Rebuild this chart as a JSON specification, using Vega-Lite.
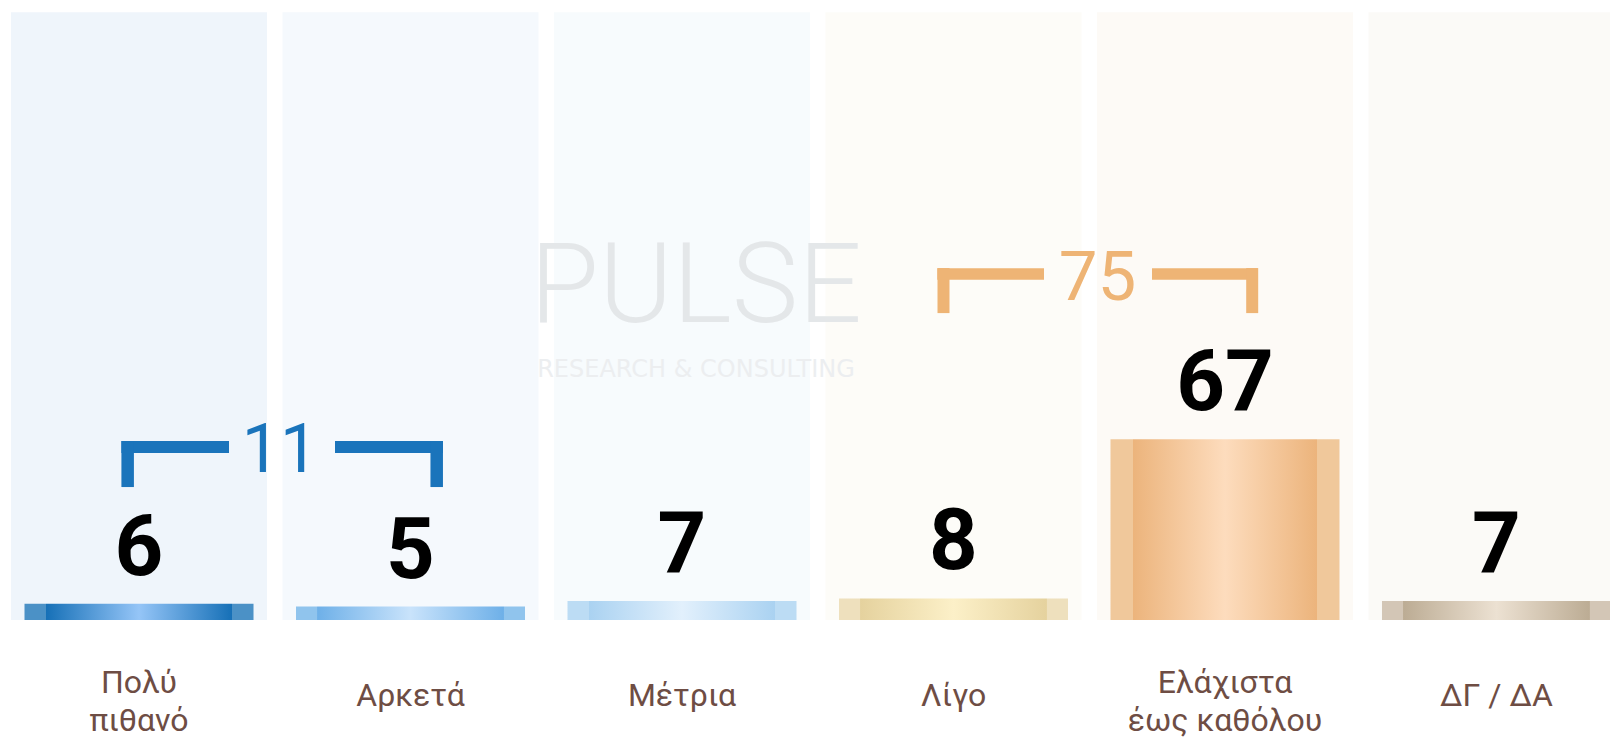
{
  "$schema": "https://vega.github.io/schema/vega-lite/v6.json",
  "width": 1610,
  "height": 620,
  "autosize": {"type": "none"},
  "padding": {"left": 0, "top": 0, "right": 0, "bottom": 122},
  "background": "#ffffff",
  "config": {"view": {"stroke": null}},
  "data": {"values": [
    {"cat": "Πολύ πιθανό", "value": 6},
    {"cat": "Αρκετά", "value": 5},
    {"cat": "Μέτρια", "value": 7},
    {"cat": "Λίγο", "value": 8},
    {"cat": "Ελάχιστα έως καθόλου", "value": 67},
    {"cat": "ΔΓ / ΔΑ", "value": 7}
  ]},
  "encoding": {
    "x": {
      "field": "cat", "type": "nominal", "sort": null,
      "scale": {"range": [11, 1624.5], "paddingInner": 0.057, "paddingOuter": 0},
      "axis": {
        "title": null, "domain": false, "ticks": false, "tickSize": 0, "grid": false,
        "labelPadding": {"condition": {"test": "datum.value == 'Πολύ πιθανό' || datum.value == 'Ελάχιστα έως καθόλου'", "value": 62}, "value": 75},
        "labelBaseline": "middle", "labelAngle": 0,
        "labelFont": "Roboto", "labelFontSize": 32, "labelColor": "#6e4d44",
        "labelLineHeight": 38, "labelOverlap": false, "labelLimit": 0, "labelFlush": false,
        "labelExpr": "datum.value == 'Πολύ πιθανό' ? ['Πολύ', 'πιθανό'] : datum.value == 'Ελάχιστα έως καθόλου' ? ['Ελάχιστα', 'έως καθόλου'] : datum.label"
      }
    }
  },
  "layer": [
    {
      "mark": {"type": "bar", "width": {"band": 1}},
      "encoding": {
        "y": {"datum": 225.4, "type": "quantitative", "scale": {"domain": [0, 229.9], "nice": false, "zero": true}, "axis": null},
        "y2": {"datum": 0},
        "color": {
          "field": "cat", "type": "nominal", "legend": null,
          "scale": {
            "domain": ["Πολύ πιθανό", "Αρκετά", "Μέτρια", "Λίγο", "Ελάχιστα έως καθόλου", "ΔΓ / ΔΑ"],
            "range": ["#eff5fb", "#f5f9fd", "#f7fbfd", "#fdfcf8", "#fdfaf6", "#fbfaf7"]
          }
        }
      }
    },
    {
      "data": {"values": [{}]},
      "mark": {"type": "text", "text": "PULSE", "font": "Roboto", "fontWeight": 300, "fontSize": 112, "color": "#e4e7e9", "align": "center", "baseline": "alphabetic", "xOffset": 14},
      "encoding": {
        "x": {"datum": "Μέτρια"},
        "y": {"datum": 110.5, "type": "quantitative", "scale": {"domain": [0, 229.9], "nice": false}, "axis": null}
      }
    },
    {
      "data": {"values": [{}]},
      "mark": {"type": "text", "text": "RESEARCH & CONSULTING", "font": "DejaVu Sans", "fontSize": 24, "color": "#eceef0", "align": "center", "baseline": "alphabetic", "xOffset": 14},
      "encoding": {
        "x": {"datum": "Μέτρια"},
        "y": {"datum": 90.1, "type": "quantitative", "scale": {"domain": [0, 229.9], "nice": false}, "axis": null}
      }
    },
    {
      "transform": [{"filter": "datum.cat == 'Πολύ πιθανό'"}],
      "mark": {"type": "bar", "width": {"band": 0.8945}, "fill": {"gradient": "linear", "x1": 0, "y1": 0, "x2": 1, "y2": 0, "stops": [
        {"offset": 0, "color": "#4b91c6"}, {"offset": 0.093, "color": "#4b91c6"}, {"offset": 0.094, "color": "#1670b7"},
        {"offset": 0.5, "color": "#95c5f7"}, {"offset": 0.906, "color": "#1670b7"}, {"offset": 0.907, "color": "#4b91c6"}, {"offset": 1, "color": "#4b91c6"}]}},
      "encoding": {"y": {"field": "value", "type": "quantitative", "scale": {"domain": [0, 229.9], "nice": false}, "axis": null}}
    },
    {
      "transform": [{"filter": "datum.cat == 'Αρκετά'"}],
      "mark": {"type": "bar", "width": {"band": 0.8945}, "fill": {"gradient": "linear", "x1": 0, "y1": 0, "x2": 1, "y2": 0, "stops": [
        {"offset": 0, "color": "#90c4ed"}, {"offset": 0.093, "color": "#90c4ed"}, {"offset": 0.094, "color": "#6eb0e8"},
        {"offset": 0.5, "color": "#c9e3fb"}, {"offset": 0.906, "color": "#6eb0e8"}, {"offset": 0.907, "color": "#90c4ed"}, {"offset": 1, "color": "#90c4ed"}]}},
      "encoding": {"y": {"field": "value", "type": "quantitative", "scale": {"domain": [0, 229.9], "nice": false}, "axis": null}}
    },
    {
      "transform": [{"filter": "datum.cat == 'Μέτρια'"}],
      "mark": {"type": "bar", "width": {"band": 0.8945}, "fill": {"gradient": "linear", "x1": 0, "y1": 0, "x2": 1, "y2": 0, "stops": [
        {"offset": 0, "color": "#bcdcf4"}, {"offset": 0.093, "color": "#bcdcf4"}, {"offset": 0.094, "color": "#aad2f1"},
        {"offset": 0.5, "color": "#e2f0fc"}, {"offset": 0.906, "color": "#aad2f1"}, {"offset": 0.907, "color": "#bcdcf4"}, {"offset": 1, "color": "#bcdcf4"}]}},
      "encoding": {"y": {"field": "value", "type": "quantitative", "scale": {"domain": [0, 229.9], "nice": false}, "axis": null}}
    },
    {
      "transform": [{"filter": "datum.cat == 'Λίγο'"}],
      "mark": {"type": "bar", "width": {"band": 0.8945}, "fill": {"gradient": "linear", "x1": 0, "y1": 0, "x2": 1, "y2": 0, "stops": [
        {"offset": 0, "color": "#eee0bd"}, {"offset": 0.093, "color": "#eee0bd"}, {"offset": 0.094, "color": "#e5d29e"},
        {"offset": 0.5, "color": "#fcf0c8"}, {"offset": 0.906, "color": "#e5d29e"}, {"offset": 0.907, "color": "#eee0bd"}, {"offset": 1, "color": "#eee0bd"}]}},
      "encoding": {"y": {"field": "value", "type": "quantitative", "scale": {"domain": [0, 229.9], "nice": false}, "axis": null}}
    },
    {
      "transform": [{"filter": "datum.cat == 'Ελάχιστα έως καθόλου'"}],
      "mark": {"type": "bar", "width": {"band": 0.8945}, "fill": {"gradient": "linear", "x1": 0, "y1": 0, "x2": 1, "y2": 0, "stops": [
        {"offset": 0, "color": "#f0c89b"}, {"offset": 0.099, "color": "#f0c89b"}, {"offset": 0.1, "color": "#ecb47c"},
        {"offset": 0.5, "color": "#fddcbd"}, {"offset": 0.9, "color": "#ecb47c"}, {"offset": 0.901, "color": "#f0c89b"}, {"offset": 1, "color": "#f0c89b"}]}},
      "encoding": {"y": {"field": "value", "type": "quantitative", "scale": {"domain": [0, 229.9], "nice": false}, "axis": null}}
    },
    {
      "transform": [{"filter": "datum.cat == 'ΔΓ / ΔΑ'"}],
      "mark": {"type": "bar", "width": {"band": 0.8945}, "fill": {"gradient": "linear", "x1": 0, "y1": 0, "x2": 1, "y2": 0, "stops": [
        {"offset": 0, "color": "#d3c6b6"}, {"offset": 0.093, "color": "#d3c6b6"}, {"offset": 0.094, "color": "#bcac94"},
        {"offset": 0.5, "color": "#ece1d2"}, {"offset": 0.906, "color": "#bcac94"}, {"offset": 0.907, "color": "#d3c6b6"}, {"offset": 1, "color": "#d3c6b6"}]}},
      "encoding": {"y": {"field": "value", "type": "quantitative", "scale": {"domain": [0, 229.9], "nice": false}, "axis": null}}
    },
    {
      "mark": {"type": "text", "font": "Roboto", "fontWeight": "bold", "fontSize": 85, "color": "#000000", "align": "center", "baseline": "alphabetic", "dy": -29},
      "encoding": {
        "y": {"field": "value", "type": "quantitative", "scale": {"domain": [0, 229.9], "nice": false}, "axis": null},
        "text": {"field": "value", "type": "quantitative"}
      }
    },
    {
      "data": {"values": [{}]},
      "mark": {"type": "rule", "color": "#1a74bb", "strokeWidth": 12, "strokeCap": "butt", "xOffset": -17.6, "x2Offset": 90},
      "encoding": {"x": {"datum": "Πολύ πιθανό"}, "x2": {"datum": "Πολύ πιθανό"}, "y": {"datum": 64.15, "type": "quantitative", "scale": {"domain": [0, 229.9], "nice": false}, "axis": null}}
    },
    {
      "data": {"values": [{}]},
      "mark": {"type": "rule", "color": "#1a74bb", "strokeWidth": 12, "strokeCap": "butt", "xOffset": -75.5, "x2Offset": 32.4},
      "encoding": {"x": {"datum": "Αρκετά"}, "x2": {"datum": "Αρκετά"}, "y": {"datum": 64.15, "type": "quantitative", "scale": {"domain": [0, 229.9], "nice": false}, "axis": null}}
    },
    {
      "data": {"values": [{}]},
      "mark": {"type": "rule", "color": "#1a74bb", "strokeWidth": 12.5, "strokeCap": "butt", "xOffset": -11.35},
      "encoding": {"x": {"datum": "Πολύ πιθανό"}, "y": {"datum": 66.37, "type": "quantitative", "scale": {"domain": [0, 229.9], "nice": false}, "axis": null}, "y2": {"datum": 49.3}}
    },
    {
      "data": {"values": [{}]},
      "mark": {"type": "rule", "color": "#1a74bb", "strokeWidth": 12.5, "strokeCap": "butt", "xOffset": 26.2},
      "encoding": {"x": {"datum": "Αρκετά"}, "y": {"datum": 66.37, "type": "quantitative", "scale": {"domain": [0, 229.9], "nice": false}, "axis": null}, "y2": {"datum": 49.3}}
    },
    {
      "data": {"values": [{}]},
      "mark": {"type": "text", "text": "11", "font": "Roboto", "fontSize": 68, "color": "#1a74bb", "align": "center", "baseline": "alphabetic", "xOffset": 141},
      "encoding": {"x": {"datum": "Πολύ πιθανό"}, "y": {"datum": 54.9, "type": "quantitative", "scale": {"domain": [0, 229.9], "nice": false}, "axis": null}}
    },
    {
      "data": {"values": [{}]},
      "mark": {"type": "rule", "color": "#eeb475", "strokeWidth": 11.5, "strokeCap": "butt", "xOffset": -16.2, "x2Offset": 90.5},
      "encoding": {"x": {"datum": "Λίγο"}, "x2": {"datum": "Λίγο"}, "y": {"datum": 128.3, "type": "quantitative", "scale": {"domain": [0, 229.9], "nice": false}, "axis": null}}
    },
    {
      "data": {"values": [{}]},
      "mark": {"type": "rule", "color": "#eeb475", "strokeWidth": 11.5, "strokeCap": "butt", "xOffset": -73, "x2Offset": 32.7},
      "encoding": {"x": {"datum": "Ελάχιστα έως καθόλου"}, "x2": {"datum": "Ελάχιστα έως καθόλου"}, "y": {"datum": 128.3, "type": "quantitative", "scale": {"domain": [0, 229.9], "nice": false}, "axis": null}}
    },
    {
      "data": {"values": [{}]},
      "mark": {"type": "rule", "color": "#eeb475", "strokeWidth": 12, "strokeCap": "butt", "xOffset": -10},
      "encoding": {"x": {"datum": "Λίγο"}, "y": {"datum": 130.5, "type": "quantitative", "scale": {"domain": [0, 229.9], "nice": false}, "axis": null}, "y2": {"datum": 113.8}}
    },
    {
      "data": {"values": [{}]},
      "mark": {"type": "rule", "color": "#eeb475", "strokeWidth": 12, "strokeCap": "butt", "xOffset": 27.2},
      "encoding": {"x": {"datum": "Ελάχιστα έως καθόλου"}, "y": {"datum": 130.5, "type": "quantitative", "scale": {"domain": [0, 229.9], "nice": false}, "axis": null}, "y2": {"datum": 113.8}}
    },
    {
      "data": {"values": [{}]},
      "mark": {"type": "text", "text": "75", "font": "Roboto", "fontSize": 69, "color": "#eeb475", "align": "center", "baseline": "alphabetic", "xOffset": 144},
      "encoding": {"x": {"datum": "Λίγο"}, "y": {"datum": 118.65, "type": "quantitative", "scale": {"domain": [0, 229.9], "nice": false}, "axis": null}}
    }
  ]
}
